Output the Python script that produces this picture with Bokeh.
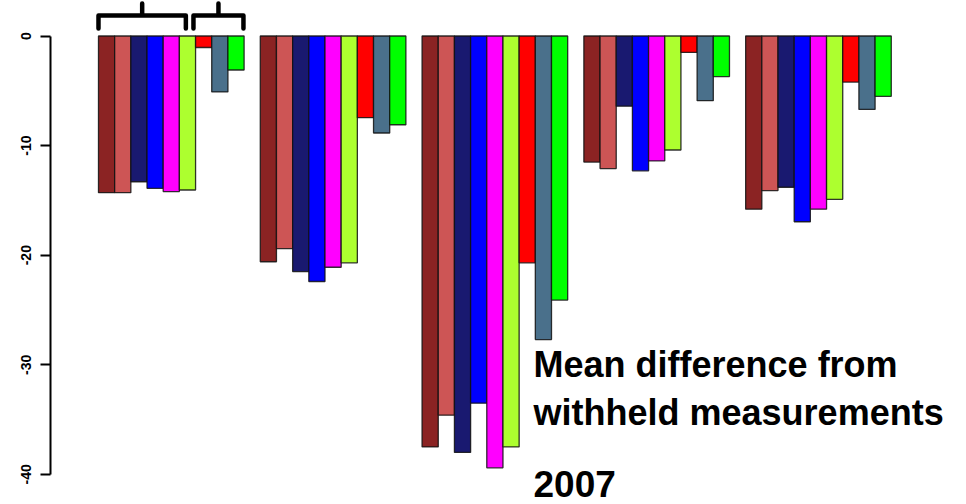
from bokeh.plotting import figure
from bokeh.models import ColumnDataSource, FixedTicker, Range1d
from bokeh.core.properties import value
from bokeh.embed import file_html
from bokeh.resources import INLINE

# ---- data ----
groups = ["G1", "G2", "G3", "G4", "G5"]
series_colors = ["#8B2323", "#CD5555", "#191970", "#0000FF", "#FF00FF",
                 "#ADFF2F", "#FF0000", "#4A708B", "#00FF00"]
g1 = [-14.3, -14.3, -13.3, -13.9, -14.2, -14.05, -1.05, -5.1, -3.1]
g2 = [-20.6, -19.4, -21.5, -22.4, -21.1, -20.7, -7.45, -8.85, -8.1]
g3 = [-37.5, -34.6, -38.0, -33.5, -39.4, -37.5, -20.7, -27.7, -24.1]
g4 = [-11.5, -12.1, -6.4, -12.3, -11.4, -10.4, -1.5, -5.9, -3.7]
g5 = [-15.8, -14.1, -13.8, -16.95, -15.8, -14.9, -4.2, -6.7, -5.5]
group_values = [g1, g2, g3, g4, g5]
y_ticks = [0, -10, -20, -30, -40]
y_tick_labels = ["0", "-10", "-20", "-30", "-40"]
title_lines = ["Mean difference from", "withheld measurements"]
year_label = "2007"

# ---- layout (R barplot beside=TRUE, space=c(0,1)) ----
n_series = len(series_colors)
pitch = n_series + 1

xs, tops, bottoms, colors = [], [], [], []
for gi, vals in enumerate(group_values):
    for j, v in enumerate(vals):
        xs.append(gi * pitch + 1 + j + 0.5)
        tops.append(0)
        bottoms.append(v)
        colors.append(series_colors[j])

src = ColumnDataSource(dict(x=xs, top=tops, bottom=bottoms, color=colors))

p = figure(width=966, height=504, output_backend="svg", toolbar_location=None,
           x_range=Range1d(-1.966, 54.65), y_range=Range1d(-42.75, 3.24),
           min_border_left=50, min_border_right=0, min_border_top=0,
           min_border_bottom=0)
p.outline_line_color = None
p.xgrid.visible = False
p.ygrid.visible = False
p.xaxis.visible = False
p.background_fill_color = "white"
p.border_fill_color = "white"

p.vbar(x="x", top="top", bottom="bottom", width=1.0, fill_color="color",
       line_color="#111111", line_width=1.3, line_alpha=0.85, source=src)

# y axis
ya = p.yaxis[0]
ya.ticker = FixedTicker(ticks=y_ticks)
ya.major_label_overrides = {t: l for t, l in zip(y_ticks, y_tick_labels)}
ya.bounds = (min(y_ticks), max(y_ticks))
ya.major_label_orientation = "vertical"
ya.major_tick_out = 10
ya.major_tick_in = 0
ya.minor_tick_out = 0
ya.minor_tick_in = 0
ya.axis_line_width = 2
ya.major_tick_line_width = 2
ya.major_label_text_font = "Liberation Sans"
ya.major_label_text_font_style = "bold"
ya.major_label_text_font_size = "14px"
ya.major_label_standoff = 9
ya.major_label_text_color = "black"

# brackets above first group: series 1-6 and series 7-9
def bracket(x0, x1, y_end=0.68, y_mid=1.87, y_top=2.97):
    xc = (x0 + x1) / 2
    bx = [x0, x0, xc, xc, xc, x1, x1]
    by = [y_end, y_mid, y_mid, y_top, y_mid, y_mid, y_end]
    return bx, by

b1 = bracket(1.0, 1 + 6 - 0.6)
b2 = bracket(1 + 6 - 0.13, 1 + 9 - 0.04)
p.multi_line(xs=[b1[0], b2[0]], ys=[b1[1], b2[1]], line_color="black",
             line_width=4.5, line_join="round", line_cap="round")

# annotation text
p.text(x=[27.89, 27.89], y=[-29.97, -34.35], text=title_lines,
       text_font=value("Liberation Sans"), text_font_style="bold",
       text_font_size="36px", text_color="black", text_align="left",
       text_baseline="alphabetic")
p.text(x=[27.89], y=[-40.85], text=[year_label],
       text_font=value("Liberation Sans"), text_font_style="bold",
       text_font_size="37px", text_color="black", text_align="left",
       text_baseline="alphabetic")

open("out.html", "w").write(file_html(p, INLINE))
